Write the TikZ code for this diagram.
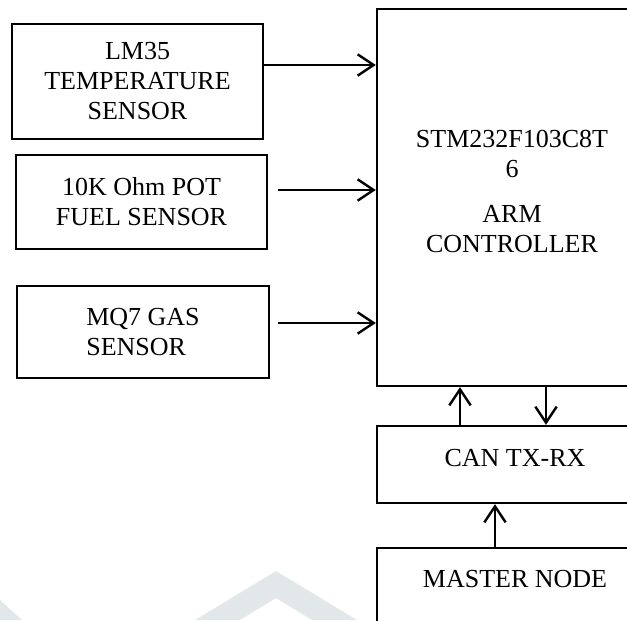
\documentclass[tikz,border=0pt]{standalone}
\usepackage{fontspec}
\setmainfont{Liberation Serif}
\usetikzlibrary{arrows.meta}

\newcommand{\px}{0.75pt}
\definecolor{marca}{RGB}{226,232,234}

\tikzset{
    caixa/.style={draw, line width=1.8pt, rectangle, inner sep=0pt},
    rotulo/.style={align=center, inner sep=0pt, font=\fontsize{19.5}{22.5}\selectfont},
    seta/.style={line width=1.8pt, -{Straight Barb[length=12pt, width=16pt]}}
}

\begin{document}
\begin{tikzpicture}[x=\px, y=-\px]

    \useasboundingbox (0,0) rectangle (627,620);
    \clip (0,0) rectangle (627,620);

    % marca d'agua
    \fill[marca] (195,620) -- (276,571) -- (357,620) -- (312,620) -- (276,598) -- (240,620) -- cycle;
    \fill[marca] (0,600) -- (22,620) -- (0,620) -- cycle;

    % sensores
    \node[caixa, rotulo, minimum width=251*\px, minimum height=115*\px] (lm35) at (137.5,81.5) {LM35\\TEMPERATURE\\SENSOR};
    \node[caixa, rotulo, minimum width=251*\px, minimum height=94*\px] (pot) at (141.5,202) {10K Ohm POT\\FUEL SENSOR};
    \node[caixa, rotulo, align=left, minimum width=252*\px, minimum height=92*\px] (mq7) at (143,332) {MQ7 GAS\\SENSOR};

    % controlador
    \node[caixa, minimum width=270*\px, minimum height=377*\px] (arm) at (512,197.5) {};
    \node[rotulo] (armtxt) at (512,191.5) {STM232F103C8T\\6\\[11pt]ARM\\CONTROLLER};

    % CAN e mestre
    \node[caixa, minimum width=276*\px, minimum height=77*\px] (can) at (515,464.5) {};
    \node[rotulo] (cantxt) at (515,458) {CAN TX-RX};
    \node[caixa, minimum width=276*\px, minimum height=120*\px] (master) at (515,608) {};
    \node[rotulo] (mastertxt) at (515,579) {MASTER NODE};

    % ligacoes
    \draw[seta] ([yshift=16.5*\px]lm35.east) coordinate (a) -- (a -| arm.west);
    \draw[seta] ([xshift=10*\px, yshift=12*\px]pot.east) coordinate (b) -- (b -| arm.west);
    \draw[seta] ([xshift=8*\px, yshift=9*\px]mq7.east) coordinate (c) -- (c -| arm.west);
    \draw[seta] ([xshift=-55*\px]can.north) coordinate (d) -- (d |- arm.south);
    \draw[seta] ([xshift=34*\px]arm.south) coordinate (e) -- (e |- can.north);
    \draw[seta] ([xshift=-20*\px]master.north) coordinate (f) -- (f |- can.south);

\end{tikzpicture}
\end{document}
